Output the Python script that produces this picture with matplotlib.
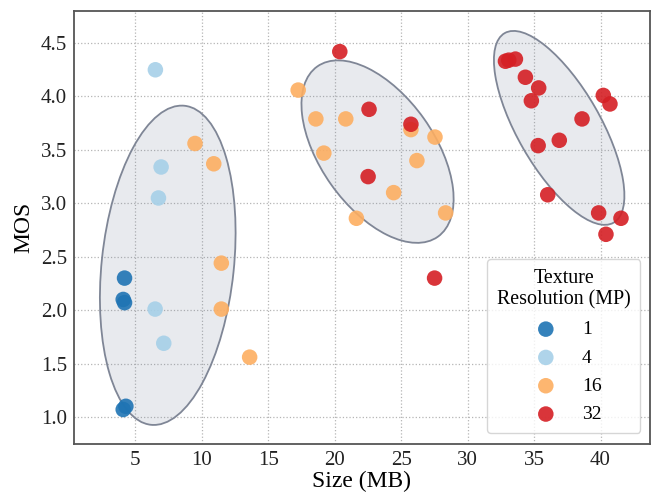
import matplotlib
matplotlib.use("Agg")
import matplotlib.pyplot as plt
from matplotlib.patches import Ellipse
from matplotlib.transforms import IdentityTransform
import numpy as np

# ---- data ----
res_labels = ["1", "4", "16", "32"]
colors = ["#1f74b4", "#a6d0e8", "#fdae61", "#d51f24"]

x_1 = [4.20, 4.10, 4.20, 4.10, 4.30]
y_1 = [2.30, 2.10, 2.07, 1.07, 1.10]

x_4 = [6.52, 6.95, 6.75, 6.50, 7.15]
y_4 = [4.25, 3.34, 3.05, 2.01, 1.69]

x_16 = [9.50, 10.91, 11.48, 11.48, 13.61, 17.26, 18.59, 20.84, 25.74, 27.55,
        19.19, 26.19, 24.44, 21.64, 28.35]
y_16 = [3.56, 3.37, 2.44, 2.01, 1.56, 4.06, 3.79, 3.79, 3.69, 3.62,
        3.47, 3.40, 3.10, 2.86, 2.91]

x_32 = [20.39, 22.59, 25.74, 22.52, 27.52, 32.85, 33.10, 33.60, 34.35, 35.35,
        34.80, 40.21, 40.71, 38.61, 36.90, 35.31, 36.03, 39.86, 41.54, 40.41]
y_32 = [4.42, 3.88, 3.74, 3.25, 2.30, 4.33, 4.34, 4.35, 4.18, 4.08,
        3.96, 4.01, 3.93, 3.79, 3.59, 3.54, 3.08, 2.91, 2.86, 2.71]

xs = [x_1, x_4, x_16, x_32]
ys = [y_1, y_4, y_16, y_32]

# cluster ellipses: centre (data), full axes (pixels), angle (deg, display)
ell_cx = [7.45, 23.23, 36.89]
ell_cy = [2.42, 3.484, 3.706]
ell_w = [320.8, 208.6, 218.6]
ell_h = [132.2, 113.8, 82.8]
ell_ang = [84.0, 125.3, 119.9]

x_ticks = [5, 10, 15, 20, 25, 30, 35, 40]
y_ticks = [1.0, 1.5, 2.0, 2.5, 3.0, 3.5, 4.0, 4.5]

# ---- plot ----
plt.rcParams['font.family'] = ['Liberation Serif', 'DejaVu Serif']
fig = plt.figure(figsize=(6.51, 5.01), dpi=100)
ax = fig.add_axes([0.1137, 0.1144, 0.8843, 0.8636])
ax.set_xlim(0.4, 43.7)
ax.set_ylim(0.75, 4.80)
ax.set_xticks(x_ticks)
ax.set_yticks(y_ticks)
ax.set_yticklabels([f"{v:.1f}" for v in y_ticks])
ax.tick_params(length=0, labelsize=15, pad=5, colors='#222222')
ax.grid(True, linestyle=':', color='#b5b5b5', linewidth=0.9)
ax.set_axisbelow(True)
for s in ax.spines.values():
    s.set_color('#555555')
    s.set_linewidth(1.3)

fig.canvas.draw()
for cx, cy, w, h, a in zip(ell_cx, ell_cy, ell_w, ell_h, ell_ang):
    px, py = ax.transData.transform((cx, cy))
    e = Ellipse((px, py), w, h, angle=a, transform=IdentityTransform(),
                facecolor=(0.45, 0.5, 0.6, 0.16), edgecolor='#7f8696',
                linewidth=1.3, zorder=1)
    e.set_clip_path(ax.patch)
    ax.add_artist(e)

for xv, yv, c, lab in zip(xs, ys, colors, res_labels):
    ax.scatter(xv, yv, s=125, color=c, alpha=0.9, edgecolors='none',
               label=lab, zorder=3)

ax.set_xlabel("Size (MB)", fontsize=17, labelpad=1)
ax.set_ylabel("MOS", fontsize=17, labelpad=5)

leg = ax.legend(title="Texture\nResolution (MP)", loc='lower right',
                fontsize=14, title_fontsize=14.4, frameon=True,
                borderpad=0.5, labelspacing=0.55, handletextpad=0.85,
                borderaxespad=0, bbox_to_anchor=(0.984, 0.025),
                alignment='center')
leg.get_title().set_multialignment('center')
leg.get_frame().set_edgecolor('#cccccc')
leg.get_frame().set_linewidth(1.0)
leg.set_zorder(5)

fig.savefig("out.png", dpi=100)
